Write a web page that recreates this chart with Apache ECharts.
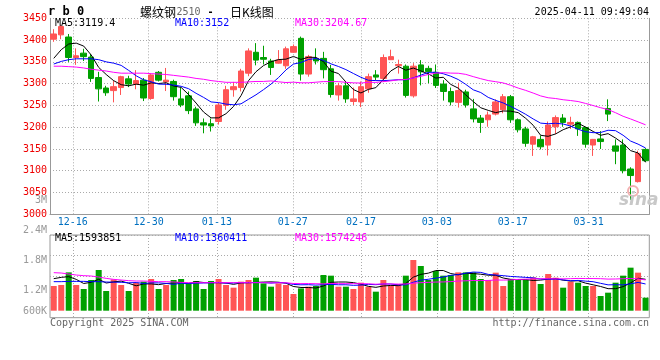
<!DOCTYPE html>
<html><head><meta charset="utf-8">
<script src="https://cdn.jsdelivr.net/npm/echarts@6/dist/echarts.min.js"></script>
<style>html,body{margin:0;padding:0;background:#fff}#c{width:660px;height:360px}</style>
</head><body><div id="c"></div>
<script>
// ---- data ----
const dates = ['12-11','12-12','12-13','12-16','12-17','12-18','12-19','12-20','12-23','12-24','12-25','12-26','12-27','12-30','12-31',
'01-02','01-03','01-06','01-07','01-08','01-09','01-10','01-13','01-14','01-15','01-16','01-17','01-20','01-21','01-22','01-23','01-24','01-27',
'02-05','02-06','02-07','02-10','02-11','02-12','02-13','02-14','02-17','02-18','02-19','02-20','02-21','02-24','02-25','02-26','02-27','02-28',
'03-03','03-04','03-05','03-06','03-07','03-10','03-11','03-12','03-13','03-14','03-17','03-18','03-19','03-20','03-21','03-24','03-25','03-26','03-27','03-28','03-31',
'04-01','04-02','04-03','04-07','04-08','04-09','04-10','04-11'];
const labelDates = ['12-16','12-30','01-13','01-27','02-17','03-03','03-17','03-31'];

const opens = [3402,3412,3407,3360,3370,3361,3314,3290,3284,3291,
3311,3299,3308,3266,3326,3304,3305,3265,3272,3242,
3210,3208,3213,3250,3286,3291,3324,3372,3360,3352,
3347,3341,3372,3404,3322,3357,3358,3334,3274,3295,
3259,3258,3288,3320,3312,3355,3341,3340,3272,3343,
3335,3326,3299,3282,3257,3281,3242,3221,3217,3230,
3240,3270,3217,3196,3161,3172,3159,3201,3221,3207,
3211,3199,3159,3173,3243,3157,3159,3104,3075,3149];
const closes = [3414,3431,3360,3364,3362,3312,3288,3279,3293,3316,
3299,3307,3267,3320,3308,3308,3270,3251,3238,3210,
3205,3203,3251,3286,3293,3329,3375,3354,3356,3337,
3354,3380,3385,3322,3362,3352,3332,3275,3295,3265,
3265,3293,3316,3315,3360,3362,3344,3273,3340,3327,
3328,3296,3282,3258,3284,3251,3219,3211,3228,3258,
3270,3217,3194,3163,3178,3155,3205,3222,3211,3211,
3196,3161,3172,3167,3230,3145,3100,3089,3140,3123];
const highs = [3425,3435,3414,3381,3380,3368,3327,3295,3307,3318,
3318,3331,3313,3322,3329,3336,3309,3291,3282,3247,
3220,3220,3256,3295,3304,3334,3381,3393,3387,3357,
3377,3385,3390,3408,3366,3381,3373,3343,3302,3305,
3291,3305,3323,3331,3367,3378,3355,3344,3347,3354,
3341,3344,3308,3291,3302,3286,3265,3228,3236,3264,
3276,3274,3220,3201,3180,3181,3213,3227,3230,3224,
3213,3201,3173,3191,3264,3172,3172,3108,3146,3152];
const lows = [3396,3402,3350,3343,3352,3304,3259,3272,3257,3274,
3292,3287,3260,3263,3305,3283,3261,3246,3230,3203,
3186,3190,3206,3240,3270,3282,3317,3342,3344,3320,
3346,3334,3371,3307,3316,3344,3312,3268,3261,3256,
3251,3246,3279,3308,3304,3355,3323,3268,3268,3296,
3301,3290,3261,3250,3245,3245,3211,3187,3201,3227,
3232,3210,3188,3155,3134,3149,3135,3184,3201,3196,
3180,3153,3134,3150,3214,3115,3094,3033,3073,3120];
const volumes = [1280000,1300000,1553000,1300000,1220000,1400000,1600000,1180000,1413000,1300000,
1180000,1347000,1367000,1420000,1220000,1300000,1400000,1420000,1333000,1380000,
1220000,1380000,1420000,1300000,1247000,1367000,1400000,1447000,1333000,1267000,
1333000,1300000,1120000,1233000,1267000,1280000,1500000,1487000,1267000,1267000,
1220000,1347000,1267000,1167000,1400000,1280000,1320000,1487000,1800000,1680000,
1400000,1580000,1487000,1500000,1553000,1553000,1553000,1420000,1400000,1547000,
1280000,1420000,1400000,1400000,1453000,1320000,1520000,1447000,1247000,1367000,
1347000,1280000,1280000,1080000,1147000,1347000,1487000,1647000,1547000,1047000];

// moving-average values at the left edge (their history lies before the window)
const ma5Head = [3358,3378,3391,3393];
const ma10Head = [3345,3351,3355,3357,3357,3357,3355,3350,3347];
const ma30Head = [3340,3340,3339,3338,3336,3333,3331,3329,3326,3324,3324,3324,3324,3323,3322,3321,3319,3317,3315,3312,3310,3307,3305,3303,3303,3303,3304,3305,3305];
const vma5Head = [1427000,1453000,1467000,1413000];
const vma10Head = [1367000,1367000,1373000,1373000,1373000,1367000,1367000,1360000,1357000];
const vma30Head = [1547000,1540000,1520000,1500000,1487000,1480000,1460000,1433000,1413000,1400000,1387000,1380000,1380000,1373000,1367000,1367000,1360000,1353000,1347000,1347000,1347000,1347000,1347000,1347000,1347000,1347000,1347000,1347000,1347000];

const priceTicks = [3000,3050,3100,3150,3200,3250,3300,3350,3400,3450];
const volTickValues = [600000,1200000,1800000,2400000,3000000];
const volTickLabels = ['600K','1.2M','1.8M','2.4M','3M'];
const priceHeader = ['MA5:3119.4','MA10:3152','MA30:3204.67'];
const volHeader = ['MA5:1593851','MA10:1360411','MA30:1574246'];

// ---- build ----
function movingAvg(vals, n, head){
  return vals.map((v,i)=>{
    if(i < n-1) return head[i];
    let s=0; for(let k=i-n+1;k<=i;k++) s+=vals[k];
    return +(s/n).toFixed(2);
  });
}
const RED='#FF5555', GREEN='#00A000';
const kData = opens.map((o,i)=>[o, closes[i], lows[i], highs[i]]);
const volData = volumes.map((v,i)=>({value:v, itemStyle:{color: closes[i]>=opens[i]?RED:GREEN}}));
const isLabel = (idx,val)=> labelDates.indexOf(val) >= 0;
const MONO = '"DejaVu Sans Mono", monospace';
const L=50, R=10.7;

const chart = echarts.init(document.getElementById('c'), null, {renderer:'canvas'});
const dotted = {show:true, interval:isLabel, lineStyle:{color:'#aaa', type:[1,2], width:1}};
function txt(x,y,text,fill,opt){
  opt = opt||{};
  return {type:'text', x:x, y:y, z:100, silent:true, style:{text:text, fill:fill, font: opt.font||('10px '+MONO),
    align: opt.align||'left', textAlign: opt.align||'left', verticalAlign:'middle', textVerticalAlign:'middle', opacity: opt.opacity==null?1:opt.opacity}};
}
const option = {
  animation:false,
  grid:[
    {left:L, right:R, top:18.3, height:196},
    {left:L, right:R, top:200.3, height:119.7},
    {left:L, right:R, top:235, height:82.7, show:true, borderColor:'#999', borderWidth:1, backgroundColor:'transparent'},
    {left:L, right:R, top:235, height:75.7}
  ],
  xAxis:[
    {gridIndex:0, type:'category', data:dates, boundaryGap:true, position:'bottom',
      axisLine:{show:true, lineStyle:{color:'#999'}}, axisTick:{show:false}, axisLabel:{show:false}, splitLine:{show:false}},
    {gridIndex:0, type:'category', data:dates, boundaryGap:false, position:'bottom',
      axisLine:{show:false}, axisTick:{show:false},
      axisLabel:{show:true, interval:isLabel, color:'#0070C0', fontFamily:MONO, fontSize:10, margin:3},
      splitLine:dotted},
    {gridIndex:1, type:'value', min:0, max:1, show:false},
    {gridIndex:2, type:'category', data:dates, boundaryGap:false, position:'bottom',
      axisLine:{show:false}, axisTick:{show:false}, axisLabel:{show:false}, splitLine:dotted},
    {gridIndex:3, type:'category', data:dates, boundaryGap:true, show:false}
  ],
  yAxis:[
    {gridIndex:0, type:'value', min:3000, max:3450, interval:50, position:'left',
      axisLine:{show:true, lineStyle:{color:'#999'}}, axisTick:{show:false},
      axisLabel:{color:'#EE0000', fontFamily:MONO, fontSize:10, margin:3, padding:[0,0,3,0],
        formatter:(v)=> priceTicks.indexOf(v)>=0 ? String(v) : ''},
      splitLine:{show:true, lineStyle:{color:'#aaa', type:[1,2], width:1}}},
    {gridIndex:0, type:'value', min:0, max:1, position:'right',
      axisLine:{show:true, lineStyle:{color:'#999'}}, axisTick:{show:false}, axisLabel:{show:false}, splitLine:{show:false}},
    {gridIndex:1, type:'value', min:600000, max:3000000, interval:600000, position:'left',
      axisLine:{show:false}, axisTick:{show:false}, splitLine:{show:false},
      axisLabel:{color:'#999', fontFamily:MONO, fontSize:10, margin:3,
        formatter:(v)=>{const i=volTickValues.indexOf(v); if(i<0) return ''; return i===0 ? '{lift|'+volTickLabels[i]+'}' : volTickLabels[i];},
        rich:{lift:{color:'#999', fontFamily:MONO, fontSize:10, padding:[0,0,18,0]}}}},
    {gridIndex:2, type:'value', min:0, max:4, interval:1, position:'left',
      axisLine:{show:false}, axisTick:{show:false}, axisLabel:{show:false},
      splitLine:{show:true, lineStyle:{color:'#aaa', type:[1,2], width:1}}},
    {gridIndex:3, type:'value', min:786667, max:2300000, show:false}
  ],
  series:[
    {type:'candlestick', xAxisIndex:0, yAxisIndex:0, data:kData, barWidth:6, z:2,
      itemStyle:{color:RED, color0:GREEN, borderColor:RED, borderColor0:GREEN, borderWidth:1}},
    {type:'line', xAxisIndex:0, yAxisIndex:0, data:movingAvg(closes,5,ma5Head), symbol:'none', z:3, lineStyle:{color:'#000', width:1}},
    {type:'line', xAxisIndex:0, yAxisIndex:0, data:movingAvg(closes,10,ma10Head), symbol:'none', z:3, lineStyle:{color:'#0000FF', width:1}},
    {type:'line', xAxisIndex:0, yAxisIndex:0, data:movingAvg(closes,30,ma30Head), symbol:'none', z:3, lineStyle:{color:'#FF00FF', width:1}},
    {type:'bar', xAxisIndex:4, yAxisIndex:4, data:volData, barWidth:6, z:2},
    {type:'line', xAxisIndex:4, yAxisIndex:4, data:movingAvg(volumes,5,vma5Head), symbol:'none', z:3, lineStyle:{color:'#000', width:1}},
    {type:'line', xAxisIndex:4, yAxisIndex:4, data:movingAvg(volumes,10,vma10Head), symbol:'none', z:3, lineStyle:{color:'#0000FF', width:1}},
    {type:'line', xAxisIndex:4, yAxisIndex:4, data:movingAvg(volumes,30,vma30Head), symbol:'none', z:3, lineStyle:{color:'#FF00FF', width:1}}
  ],
  graphic:[
    txt(48,12,'r b 0','#000',{font:'bold 12px '+MONO}),
    txt(140,12,'螺纹钢','#000',{font:'12px "Noto Sans CJK SC"'}),
    txt(176.5,12,'2510','#666'),
    txt(210.5,12,'-','#000',{align:'center', font:'bold 10px '+MONO}),
    txt(230,12,'日K线图','#000',{font:'12px "Noto Sans CJK SC"'}),
    txt(649,12,'2025-04-11 09:49:04','#000',{align:'right'}),
    txt(55,23,priceHeader[0],'#000'),
    txt(175,23,priceHeader[1],'#0000FF'),
    txt(295,23,priceHeader[2],'#FF00FF'),
    txt(55,238.5,volHeader[0],'#000'),
    txt(175,238.5,volHeader[1],'#0000FF'),
    txt(295,238.5,volHeader[2],'#FF00FF'),
    txt(50,323.5,'Copyright 2025 SINA.COM','#666'),
    txt(649,323.5,'http://finance.sina.com.cn','#666',{align:'right'}),
    {type:'circle', x:633, y:191, z:50, silent:true, shape:{r:5}, style:{fill:'none', stroke:'#f3b0b0', lineWidth:2}},
    txt(619,201,'sina','#c8c8c8',{font:'italic bold 17px "DejaVu Sans"'})
  ]
};
chart.setOption(option);
</script>
</body></html>
